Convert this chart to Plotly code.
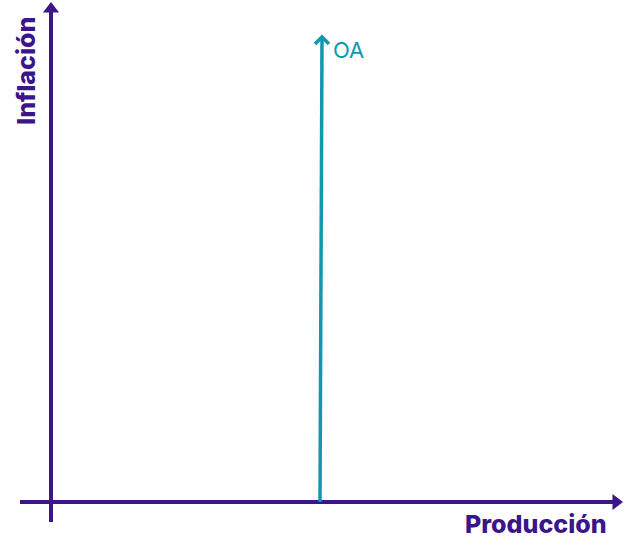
import plotly.graph_objects as go

# diagram coordinates (pixel-like units, y grows downward)
y_axis_x = [51, 51]
y_axis_y = [522, 10]
x_axis_x = [20, 614]
x_axis_y = [502, 502]
oa_x = [320, 322]
oa_y = [502, 38]
oa_head_x = [315, 322, 329]
oa_head_y = [44, 37, 44]

purple = "#3b1589"
teal = "#1197b0"

fig = go.Figure()

# axes
fig.add_trace(go.Scatter(x=y_axis_x, y=y_axis_y, mode="lines",
                         line=dict(color=purple, width=4), hoverinfo="skip"))
fig.add_trace(go.Scatter(x=x_axis_x, y=x_axis_y, mode="lines",
                         line=dict(color=purple, width=4), hoverinfo="skip"))
fig.add_trace(go.Scatter(x=[y_axis_x[1]], y=[y_axis_y[1] - 1], mode="markers",
                         marker=dict(symbol="triangle-up", size=14, color=purple),
                         cliponaxis=False, hoverinfo="skip"))
fig.add_trace(go.Scatter(x=[x_axis_x[1] + 2], y=[x_axis_y[1]], mode="markers",
                         marker=dict(symbol="triangle-right", size=14, color=purple),
                         cliponaxis=False, hoverinfo="skip"))

# OA curve
fig.add_trace(go.Scatter(x=oa_x, y=oa_y, mode="lines",
                         line=dict(color=teal, width=3.5), hoverinfo="skip"))
fig.add_trace(go.Scatter(x=oa_head_x, y=oa_head_y, mode="lines",
                         line=dict(color=teal, width=3.5), hoverinfo="skip"))

fig.add_annotation(x=331, y=50, text="OA", showarrow=False, xanchor="left",
                   font=dict(family="Inter", size=22, color=teal))
fig.add_annotation(x=26, y=71, text="Inflación", showarrow=False,
                   textangle=-90,
                   font=dict(family="Inter", size=25, color=purple, weight=800))
fig.add_annotation(x=609, y=524, text="Producción", showarrow=False,
                   xanchor="right",
                   font=dict(family="Inter", size=25, color=purple, weight=800))

fig.update_xaxes(range=[0, 625], visible=False)
fig.update_yaxes(range=[551, 0], visible=False)
fig.update_layout(width=625, height=551, autosize=False, showlegend=False,
                  margin=dict(l=0, r=0, t=0, b=0),
                  paper_bgcolor="white", plot_bgcolor="white")
# drop the default page margin so the figure sits at the window's corner
fig.write_html("out.html", config={"displayModeBar": False},
               post_script="document.body.style.margin='0';")
